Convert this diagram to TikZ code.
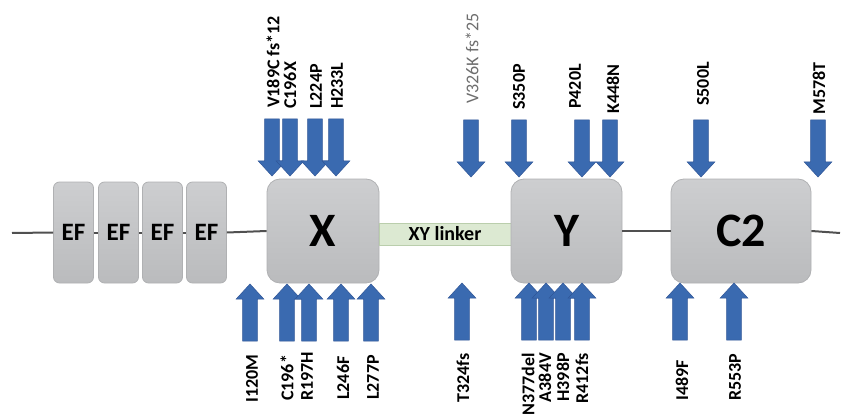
\documentclass[tikz,border=0pt]{standalone}
\usepackage{fontspec}
\setmainfont{Carlito}
\definecolor{arrfill}{RGB}{58,106,176}
\definecolor{arrdraw}{RGB}{47,85,151}
\definecolor{boxtop}{RGB}{205,206,208}
\definecolor{boxbot}{RGB}{186,187,189}
\definecolor{boxline}{RGB}{176,177,179}
\definecolor{linkfill}{RGB}{220,233,210}
\definecolor{linkline}{RGB}{186,206,172}
\definecolor{axisline}{RGB}{80,80,80}
\definecolor{graytext}{RGB}{110,110,110}
\begin{document}
\begin{tikzpicture}[x=1pt,y=-1pt,
  domainbox/.style={draw=boxline,line width=0.8pt,top color=boxtop,bottom color=boxbot,
    rounded corners=13pt,inner sep=0pt,minimum width=#1,minimum height=104pt,
    font=\fontsize{48}{50}\selectfont\bfseries},
  efbox/.style={draw=boxline,line width=0.8pt,top color=boxtop,bottom color=boxbot,
    rounded corners=6pt,inner sep=0pt,minimum width=40pt,minimum height=101pt,
    font=\fontsize{25}{27}\selectfont\bfseries},
  linkbox/.style={draw=linkline,line width=0.8pt,fill=linkfill,inner sep=0pt,
    minimum width=132pt,minimum height=22pt,font=\fontsize{20}{22}\selectfont\bfseries},
  axis/.style={draw=axisline,line width=2pt},
  mut/.style={rotate=90,inner sep=0pt,font=\fontsize{18}{20}\selectfont\bfseries},
  mutgray/.style={rotate=90,inner sep=0pt,font=\fontsize{18}{20}\selectfont,text=graytext},
  arrowstyle/.style={fill=arrfill,draw=arrdraw,line width=0.5pt,line join=miter},
  darr/.pic={\filldraw[arrowstyle] (-7.4,-57) -- (7.4,-57) -- (7.4,-15) -- (13.8,-15) -- (0,0) -- (-13.8,-15) -- (-7.4,-15) -- cycle;},
  uarr/.pic={\filldraw[arrowstyle] (-7.4,57) -- (7.4,57) -- (7.4,15) -- (13.8,15) -- (0,0) -- (-13.8,15) -- (-7.4,15) -- cycle;}
]
\useasboundingbox (0,0) rectangle (846,417);

% backbone ends
\coordinate (lstart) at (12,233);
\coordinate (rend) at (840,233);

% domains
\node[efbox] (ef1) at (73.5,232.5) {EF};
\node[efbox] (ef2) at (118.5,232.5) {EF};
\node[efbox] (ef3) at (162.5,232.5) {EF};
\node[efbox] (ef4) at (206.5,232.5) {EF};
\node[domainbox=112pt] (X) at (323,231) {X};
\node[linkbox] (link) at (445,234) {XY linker};
\node[domainbox=111pt] (Y) at (566.5,231) {Y};
\node[domainbox=140pt] (C2) at (741,231) {C2};

% backbone segments
\draw[axis] (lstart) -- (ef1.west);
\draw[axis] (ef1.east) -- (ef2.west);
\draw[axis] (ef2.east) -- (ef3.west);
\draw[axis] (ef3.east) -- (ef4.west);
\draw[axis] (ef4.east) -- (X.west);
\draw[axis] (Y.east) -- (C2.west);
\draw[axis] (C2.east) -- (rend);

% top arrows (tips at y=176)
\pic at (272,176) {darr};
\pic at (290,176) {darr};
\pic at (315,176) {darr};
\pic at (336,176) {darr};
\pic at (471,177) {darr};
\pic at (519,177) {darr};
\pic at (582,177) {darr};
\pic at (610,177) {darr};
\pic at (701,177) {darr};
\pic at (818,177) {darr};

% bottom arrows (tips at y=283)
\pic at (250,284) {uarr};
\pic at (287,284) {uarr};
\pic at (309,284) {uarr};
\pic at (341,284) {uarr};
\pic at (371,284) {uarr};
\pic at (462,283) {uarr};
\pic at (529,283) {uarr};
\pic at (546,283) {uarr};
\pic at (563,283) {uarr};
\pic at (582,283) {uarr};
\pic at (680,283) {uarr};
\pic at (734,283) {uarr};

% top labels
\node[mut,anchor=west] (t1) at (273,108) {V189C fs*12};
\node[mut,anchor=west] (t2) at (290,109) {C196X};
\node[mut,anchor=west] (t3) at (316,109) {L224P};
\node[mut,anchor=west] (t4) at (337,109) {H233L};
\node[mutgray,anchor=west] (t5) at (472,104) {V326K fs*25};
\node[mut,anchor=east] (t6) at (519,64) {S350P};
\node[mut,anchor=east] (t7) at (575,64) {P420L};
\node[mut,anchor=east] (t8) at (613,64) {K448N};
\node[mut,anchor=east] (t9) at (703,62) {S500L};
\node[mut,anchor=east] (t10) at (819,62) {M578T};

% bottom labels
\node[mut,anchor=west] (b1) at (252,403) {I120M};
\node[mut,anchor=west] (b2) at (287,401) {C196*};
\node[mut,anchor=west] (b3) at (307,401) {R197H};
\node[mut,anchor=west] (b4) at (343,400) {L246F};
\node[mut,anchor=west] (b5) at (373,400) {L277P};
\node[mut,anchor=west] (b6) at (463,403) {T324fs};
\node[mut,anchor=east] (b7) at (528,353) {N377del};
\node[mut,anchor=east] (b8) at (545,353) {A384V};
\node[mut,anchor=east] (b9) at (563,353) {H398P};
\node[mut,anchor=east] (b10) at (582,353) {R412fs};
\node[mut,anchor=west] (b11) at (682,401) {I489F};
\node[mut,anchor=west] (b12) at (735,401) {R553P};
\end{tikzpicture}
\end{document}
